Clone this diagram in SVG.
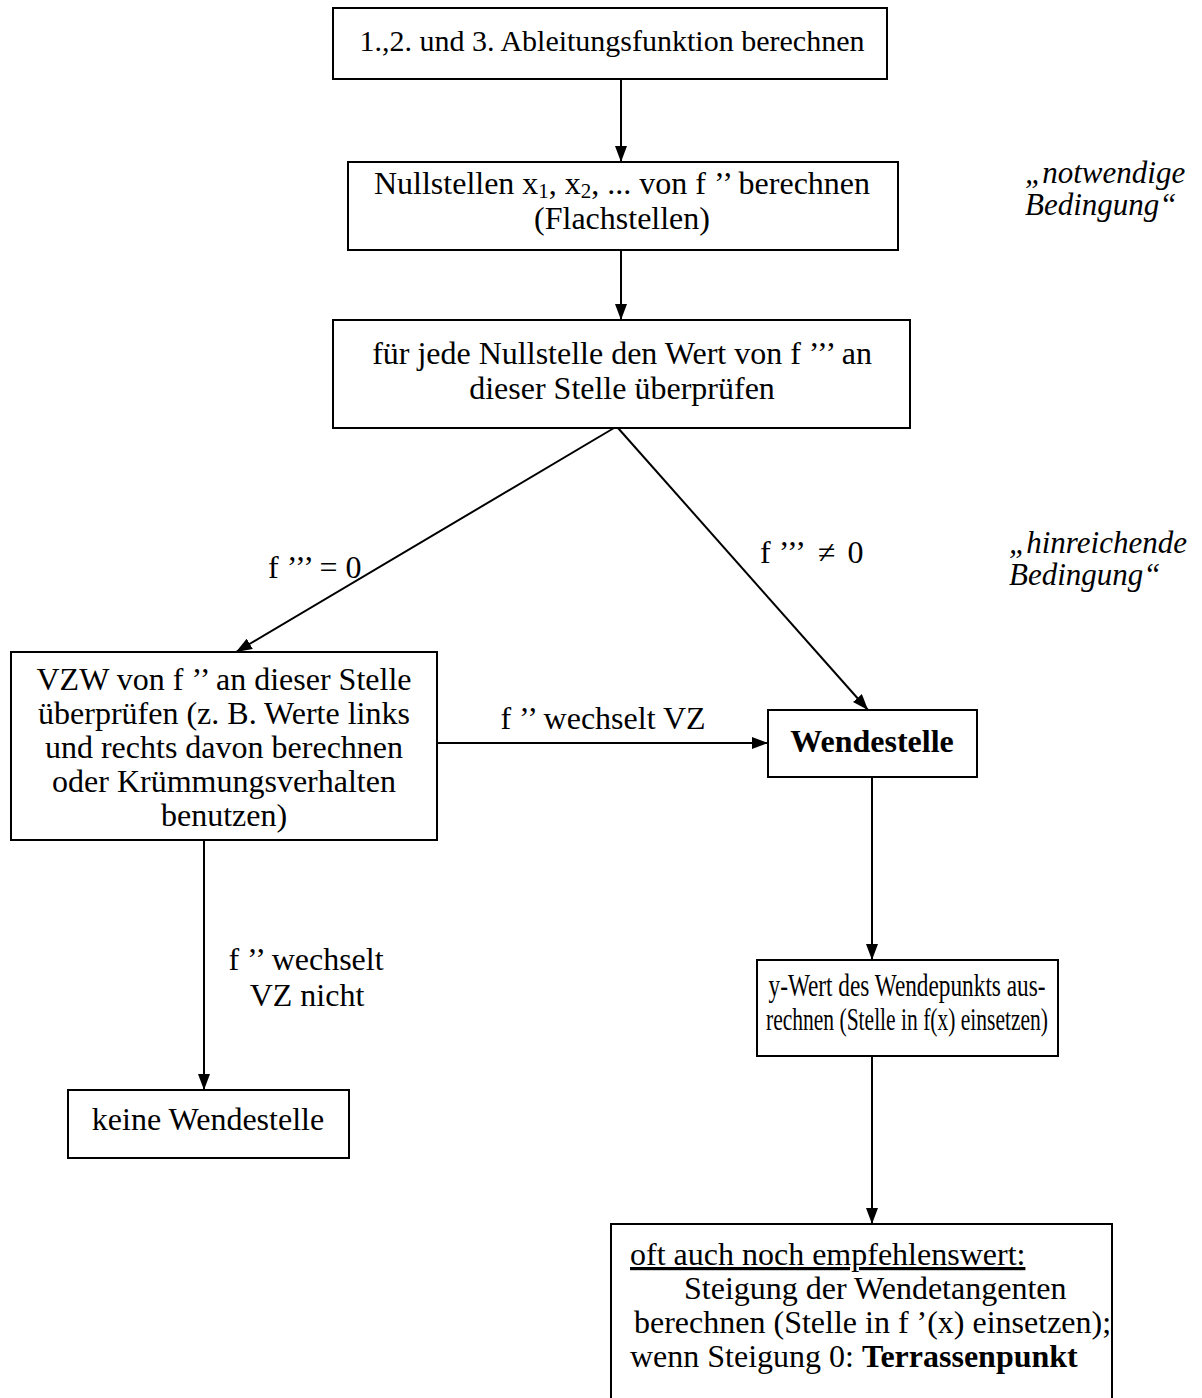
<svg xmlns="http://www.w3.org/2000/svg" width="1202" height="1398" viewBox="0 0 1202 1398">
<style>
.box{fill:#fff;stroke:#000;stroke-width:2}
.t{font-family:"Liberation Serif","Times New Roman",serif;font-size:32px;fill:#000}
.c{text-anchor:middle}
.i{font-family:"Liberation Serif","Times New Roman",serif;font-size:31px;font-style:italic;fill:#000}
.b{font-weight:bold}
.ln{stroke:#000;stroke-width:2;fill:none}
</style>
<defs>
<marker id="ah" viewBox="0 0 16 12" refX="16" refY="6" markerWidth="16" markerHeight="12" markerUnits="userSpaceOnUse" orient="auto">
<path d="M0,0 L16,6 L0,12 Z" fill="#000"/>
</marker>
</defs>
<rect width="1202" height="1398" fill="#fff"/>
<g id="connectors">
<line class="ln" x1="621" y1="79" x2="621" y2="162" marker-end="url(#ah)"/>
<line class="ln" x1="621" y1="250" x2="621" y2="320" marker-end="url(#ah)"/>
<line class="ln" x1="614" y1="428" x2="236" y2="652" marker-end="url(#ah)"/>
<line class="ln" x1="618" y1="428" x2="868" y2="710" marker-end="url(#ah)"/>
<line class="ln" x1="437" y1="743" x2="768" y2="743" marker-end="url(#ah)"/>
<line class="ln" x1="204" y1="840" x2="204" y2="1090" marker-end="url(#ah)"/>
<line class="ln" x1="872" y1="777" x2="872" y2="960" marker-end="url(#ah)"/>
<line class="ln" x1="872" y1="1056" x2="872" y2="1224" marker-end="url(#ah)"/>
<text class="t" x="268" y="578">f ’’’ = 0</text>
<text class="t" x="760" y="563">f ’’’<tspan dx="12">≠</tspan><tspan dx="12">0</tspan></text>
<text class="t" x="603" y="729" text-anchor="middle">f ’’ wechselt VZ</text>
<text class="t" x="306" y="970" text-anchor="middle">f ’’ wechselt</text>
<text class="t" x="307" y="1006" text-anchor="middle">VZ nicht</text>
</g>
<g id="n1">
<rect class="box" x="333" y="8" width="554" height="71"/>
<text class="t c" x="612" y="51" style="font-size:30px">1.,2. und 3. Ableitungsfunktion berechnen</text>
</g>
<g id="n2">
<rect class="box" x="348" y="162" width="550" height="88"/>
<text class="t c" x="622" y="194">Nullstellen x<tspan baseline-shift="-20%" style="font-size:21px">1</tspan>, x<tspan baseline-shift="-20%" style="font-size:21px">2</tspan>, ... von f ’’ berechnen</text>
<text class="t c" x="622" y="229">(Flachstellen)</text>
</g>
<g id="note1">
<text class="i" x="1025" y="183">„notwendige</text>
<text class="i" x="1025" y="215">Bedingung“</text>
</g>
<g id="n3">
<rect class="box" x="333" y="320" width="577" height="108"/>
<text class="t c" x="622" y="364">für jede Nullstelle den Wert von f ’’’ an</text>
<text class="t c" x="622" y="399">dieser Stelle überprüfen</text>
</g>
<g id="note2">
<text class="i" x="1009" y="553">„hinreichende</text>
<text class="i" x="1009" y="585">Bedingung“</text>
</g>
<g id="n4">
<rect class="box" x="11" y="652" width="426" height="188"/>
<text class="t c" x="224" y="690">VZW von f ’’ an dieser Stelle</text>
<text class="t c" x="224" y="724">überprüfen (z. B. Werte links</text>
<text class="t c" x="224" y="758">und rechts davon berechnen</text>
<text class="t c" x="224" y="792">oder Krümmungsverhalten</text>
<text class="t c" x="224" y="826">benutzen)</text>
</g>
<g id="n5">
<rect class="box" x="768" y="710" width="209" height="67"/>
<text class="t c b" x="872" y="752">Wendestelle</text>
</g>
<g id="n6">
<rect class="box" x="68" y="1090" width="281" height="68"/>
<text class="t c" x="208" y="1130">keine Wendestelle</text>
</g>
<g id="n7">
<rect class="box" x="757" y="960" width="301" height="96"/>
<text class="t c" x="907" y="996" textLength="277" lengthAdjust="spacingAndGlyphs">y-Wert des Wendepunkts aus-</text>
<text class="t c" x="907" y="1030" textLength="282" lengthAdjust="spacingAndGlyphs">rechnen (Stelle in f(x) einsetzen)</text>
</g>
<g id="n8">
<rect class="box" x="611" y="1224" width="501" height="190"/>
<text class="t" x="630" y="1265" text-decoration="underline">oft auch noch empfehlenswert:</text>
<text class="t" x="684" y="1299">Steigung der Wendetangenten</text>
<text class="t" x="634" y="1333">berechnen (Stelle in f ’(x) einsetzen);</text>
<text class="t" x="630" y="1367">wenn Steigung 0: <tspan font-weight="bold">Terrassenpunkt</tspan></text>
</g>
</svg>
